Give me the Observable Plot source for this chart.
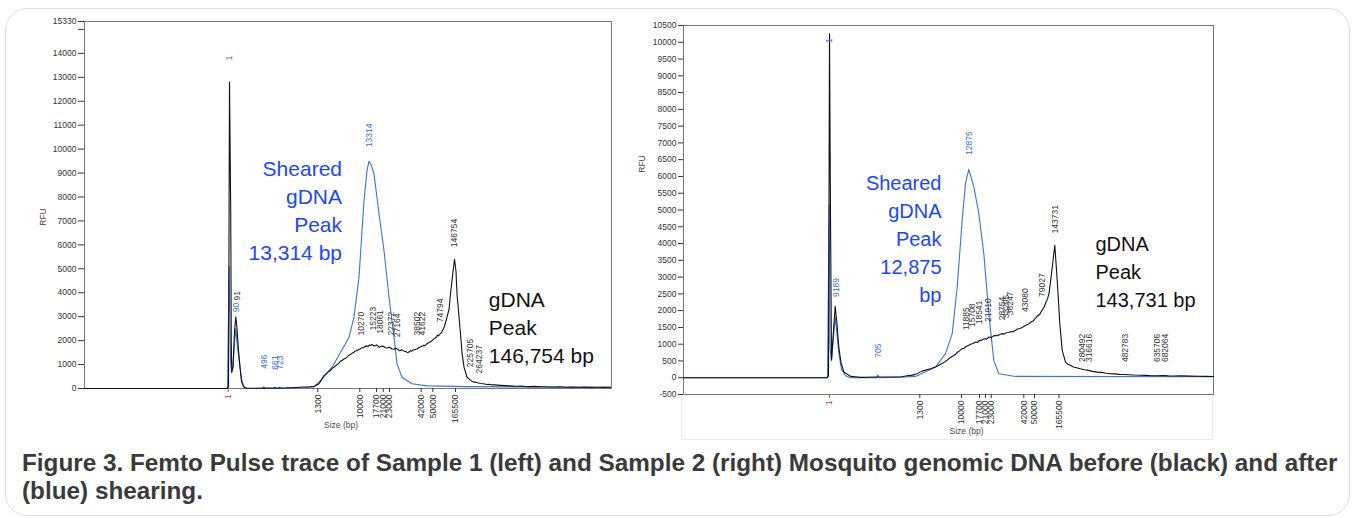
<!DOCTYPE html>
<html>
<head>
<meta charset="utf-8">
<script src="https://cdn.jsdelivr.net/npm/d3@7"></script>
<script src="https://cdn.jsdelivr.net/npm/@observablehq/plot@0.6"></script>
<style>
  html, body { margin: 0; padding: 0; background: #fff; width: 1357px; height: 518px; overflow: hidden;
    font-family: "Liberation Sans", Arial, sans-serif; }
  #box { position: absolute; left: 5px; top: 8px; width: 1345px; height: 508px; box-sizing: border-box;
    border: 1.5px solid #dedede; border-radius: 22px; }
  #left { position: absolute; left: 0; top: 10px; }
  #right { position: absolute; left: 620px; top: 10px; }
  #rframe { position: absolute; left: 681px; top: 394px; width: 532px; height: 46px; box-sizing: border-box;
    border: 1px solid #ececec; border-top: none; }
  #caption { position: absolute; left: 22px; top: 449px; font-weight: bold; font-size: 24.3px; line-height: 28px;
    color: #3a3a3a; white-space: nowrap; }
</style>
</head>
<body>
<div id="box"></div>
<div id="rframe"></div>
<div id="left"></div>
<div id="right"></div>
<div id="caption">Figure 3. Femto Pulse trace of Sample 1 (left) and Sample 2 (right) Mosquito genomic DNA before (black) and after<br>(blue) shearing.</div>
<script>
// ---------- DATA ----------
// Ladder (size standard) positions along migration time (arbitrary run-time units)
const ladderSizes = [1, 1300, 10000, 17700, 21000, 23000, 42000, 50000, 165500];
const leftLadderTime = [28.74, 46.66, 55.06, 58.4, 59.74, 61.0, 67.34, 69.66, 74.2];
const rightLadderTime = [29.2, 47.26, 55.6, 59.2, 60.4, 61.54, 68.06, 70.2, 75.1];

const leftYTicks = [0,1000,2000,3000,4000,5000,6000,7000,8000,9000,10000,11000,12000,13000,14000,15000,15330];
const rightYTicks = [-500,0,500,1000,1500,2000,2500,3000,3500,4000,4500,5000,5500,6000,6500,7000,7500,8000,8500,9000,9500,10000,10500];

// Sample 1 (left): [time, RFU]
const leftBlack = [[0,0],[28.4,0],[28.8,60],[29.0,12800],[29.25,7200],[29.35,2000],[29.45,700],[29.7,900],[30.0,2400],[30.26,3000],[30.5,2500],[30.8,1600],[31.1,900],[31.4,300],[31.8,80],[32.4,10],[36,15],[40,20],[42,40],[44,60],[45.2,70],[45.9,80],
  [46.9,200],[47.3,330],[47.9,540],[48.3,610],[48.8,700],[49.2,760],[49.6,850],[49.9,890],[50.3,960],[50.6,1010],[50.9,1060],[51.2,1150],[51.5,1170],[51.9,1230],[52.2,1260],[52.5,1310],[52.9,1390],[53.2,1420],[53.5,1470],[53.8,1500],[54.1,1560],[54.5,1590],[54.8,1620],[55.2,1660],[55.5,1700],[55.8,1700],[56.1,1760],[56.4,1780],[56.7,1750],[57.0,1820],[57.3,1800],[57.5,1840],[57.8,1790],[58.1,1780],[58.4,1820],[58.6,1790],[58.9,1730],[59.2,1740],[59.5,1770],[59.9,1750],[60.2,1700],[60.6,1690],[60.9,1720],[61.2,1700],[61.5,1650],[61.9,1640],[62.2,1680],[62.5,1660],[62.8,1600],[63.1,1580],[63.4,1620],[63.6,1600],[64.0,1560],[64.3,1540],[64.6,1500],[64.9,1520],[65.2,1580],[65.4,1560],[65.7,1600],[66.0,1620],[66.3,1640],[66.6,1660],[66.9,1720],[67.2,1730],[67.5,1760],[67.8,1800],[68.1,1790],[68.4,1850],[68.7,1900],[69.0,1930],[69.3,1960],[69.5,2000],[69.8,2060],[70.0,2080],[70.2,2120],[70.4,2150],[70.6,2230],[70.8,2200],[71.0,2260],[71.2,2290],[71.4,2330],[71.6,2420],[71.8,2500],[72.0,2600],
  [72.5,2980],[72.9,3300],[73.2,3950],[73.6,4700],[74.0,5400],[74.3,4900],[74.5,3950],[74.9,3000],[75.2,2290],[75.5,1500],[75.9,890],
  [76.5,470],[76.9,400],[77.2,340],[77.5,300],[77.9,260],[78.2,270],[78.5,240],[78.9,230],[79.2,210],[79.8,200],[80.5,170],[81,180],[81.5,150],[82,150],[82.6,140],[83.2,130],[84,120],[85,110],[85.8,100],[86.5,95],[87.5,100],[88,85],[89,80],[90,90],[91.2,70],[92,75],[93,65],[94,60],[95,70],[96.5,55],[97.5,60],[99,50],[100,60],[101.2,45],[102,55],[103,50],[104,45],[105.2,50]];
const leftBlue = [[0,0],[28.6,0],[28.94,5100],[29.2,1200],[29.4,650],[29.7,900],[30.0,1900],[30.26,2500],[30.5,1900],[30.8,1400],[31.1,900],[31.4,400],[31.9,60],[32.4,0],[35.6,0],[35.86,70],[36.1,0],[37.9,0],[38.06,60],[38.3,0],[38.9,0],[39.06,60],[39.3,0],[44,30],[45.9,80],[47.2,330],[49.5,890],[51.2,1500],[52.9,2140],[53.9,2980],[54.9,4650],[55.9,7850],[56.5,9100],[56.9,9500],[57.3,9350],[57.9,8970],[58.9,7300],[59.9,5760],[60.9,3810],[61.9,2140],[62.5,1030],[63.5,470],[65.5,200],[68.5,110],[76.5,80],[96.5,55],[105.2,50]];

// Sample 2 (right): [time, RFU]
const rightBlack = [[0,0],[28.6,0],[29.0,50],[29.2,10250],[29.4,4800],[29.6,540],[30.0,1400],[30.34,2130],[30.7,1600],[31.06,910],[31.5,450],[32.06,170],[33.4,40],[35.4,10],[39.4,20],[43.4,20],[44.7,60],[45.5,70],[46.4,100],[47.7,197],[49.4,269],
  [50.4,317],[50.9,360],[51.4,400],[51.8,430],[52.3,480],[52.7,520],[53.1,568],[53.5,610],[53.9,650],[54.4,700],[54.8,760],[55.2,800],[55.7,866],[56.1,880],[56.5,930],[57.0,960],[57.4,1000],[57.9,1020],[58.4,1063],[58.8,1050],[59.2,1110],[59.7,1120],[60.1,1160],[60.6,1150],[61.1,1213],[61.5,1200],[61.9,1240],[62.4,1260],[62.8,1250],[63.2,1290],[63.7,1314],[64.1,1300],[64.6,1340],[65.0,1350],[65.5,1380],[65.9,1370],[66.4,1413],[66.8,1450],[67.3,1470],[67.7,1500],[68.2,1540],[68.6,1570],[69.1,1612],[69.5,1660],[70.0,1700],[70.4,1780],[70.8,1840],[71.3,1900],[71.7,2010],[72.1,2100],[72.5,2250],[72.8,2350],[73.1,2508],
  [73.6,3100],[74.26,3950],[74.74,2906],[75.26,1612],[75.74,815],
  [76.4,466],[76.9,400],[77.4,366],[78,320],[78.6,300],[79.4,267],[80.2,240],[81,220],[81.8,190],[82.74,167],[83.6,160],[84.5,135],[85.4,120],[86.3,115],[87.2,100],[88.06,97],[89,90],[90,80],[91.4,75],[92.5,70],[93.6,60],[94.74,58],[96,65],[97,55],[98,52],[99.5,55],[101.4,48],[103,45],[104.5,40],[106,38]];
const rightBlue = [[0,0],[28.8,0],[29.14,5150],[29.3,900],[29.6,500],[30.0,1200],[30.34,1810],[30.7,1300],[31.1,700],[31.6,250],[32.4,60],[33.4,0],[38.6,0],[38.86,80],[39.1,0],[44,20],[46.4,39],[50.4,317],[52.4,717],[53.74,1314],[54.74,2706],[55.74,4698],[56.4,5794],[57.06,6213],[58.06,5693],[59.06,4897],[60.06,3703],[61.06,1912],[62.06,516],[63.06,119],[66.4,39],[106,30]];

// Peak size tags
const leftBlueTags = ["1", "90", "496", "661", "723", "13314"];
const leftBlueTagT = [29.0, 30.26, 35.86, 38.06, 39.06, 56.86];
const leftBlueTagRfu = [13700, 3187, 823, 781, 781, 10079];
const leftBlackTags = ["91", "10270", "15223", "18061", "22372", "27164", "38502", "41622", "74794", "146754", "225705", "264237"];
const leftBlackTagT = [30.56, 55.34, 57.74, 59.06, 61.34, 62.54, 66.54, 67.54, 71.2, 74.0, 77.2, 79.0];
const leftBlackTagRfu = [3676, 2214, 2423, 2285, 2214, 2143, 2214, 2214, 2769, 5902, 890, 627];

const rightBlueTags = ["1", "9189", "705", "12875"];
const rightBlueTagT = [29.2, 30.54, 38.86, 57.06];
const rightBlueTagRfu = [9971, 2407, 597, 6640];
const rightBlackTags = ["11885", "15708", "18541", "21910", "28754", "33295", "36247", "43080", "79027", "143731", "280492", "316616", "482783", "635706", "682064"];
const rightBlackTagT = [56.6, 57.8, 59.14, 60.86, 63.74, 64.6, 65.4, 68.4, 71.74, 74.26, 79.74, 81.06, 88.4, 94.74, 96.4];
const rightBlackTagRfu = [1413, 1511, 1592, 1661, 1711, 1771, 1861, 1960, 2408, 4301, 466, 466, 466, 466, 466];

// Peak call-outs
const leftNotes = ["Sheared\ngDNA\nPeak\n13,314 bp", "gDNA\nPeak\n146,754 bp"];
const leftNoteT = [51.5, 80.86];
const leftNoteRfu = [7494, 2590];
const rightNotes = ["Sheared\ngDNA\nPeak\n12,875\nbp", "gDNA\nPeak\n143,731 bp"];
const rightNoteT = [51.6, 82.4];
const rightNoteRfu = [4194, 3196];

// ---------- DRAWING ----------
const BLACK = "#111";
const BLUE = "#3f71dd";
const TAGBLUE = "#3a6ee0";
const NOTEBLUE = "#1e46fa";
const FONT = "'Liberation Sans', Arial, sans-serif";

const toRows = pairs => pairs.map(([t, rfu]) => ({t, rfu}));

function makeChart(o) {
  const sizeByTime = new Map(o.ladderTime.map((t, i) => [t, String(ladderSizes[i])]));
  const tagMark = (tags, ts, rfus, fill) => Plot.text(tags, {
    x: (d, i) => ts[i], y: (d, i) => rfus[i], text: d => d,
    rotate: -90, textAnchor: "start", lineAnchor: "middle", fill, fontSize: 8.5
  });
  return Plot.plot({
    width: o.width, height: o.height,
    marginLeft: o.ml, marginTop: o.mt, marginRight: o.mr, marginBottom: o.mb,
    x: {type: "linear", domain: o.xDomain, label: null},
    y: {type: "linear", domain: o.yDomain, label: null},
    style: {fontFamily: FONT, fontSize: "8.5px", color: "#333", background: "transparent", overflow: "visible"},
    marks: [
      Plot.frame({stroke: "#777"}),
      Plot.axisY(o.yTicks, {tickSize: o.yTickSize, tickPadding: 2, tickFormat: d => d === 15000 ? "" : String(d), color: "#333", label: null}),
      Plot.axisX(o.ladderTime.slice(1), {tickSize: 4, tickPadding: 2, tickRotate: -90, tickFormat: d => sizeByTime.get(d), color: "#333", label: null}),
      Plot.axisX(o.ladderTime.slice(0, 1), {tickSize: 4, tickPadding: 2, tickRotate: -90, tickFormat: d => sizeByTime.get(d), color: "#b2453c", label: null}),
      Plot.text(["RFU"], {frameAnchor: "left", dx: -41, dy: o.rfuDy, rotate: -90, textAnchor: "middle", lineAnchor: "middle", fontSize: 8.5, fill: "#5a4040"}),
      Plot.text(["Size (bp)"], {frameAnchor: "bottom", dx: o.sizeDx, dy: 37, textAnchor: "middle", lineAnchor: "middle", fontSize: 8.5, fill: "#4a4a55"}),
      Plot.line(toRows(o.blue), {x: "t", y: "rfu", stroke: BLUE, strokeWidth: 1.1}),
      Plot.line(toRows(o.black), {x: "t", y: "rfu", stroke: BLACK, strokeWidth: 1.1}),
      tagMark(o.blueTags, o.blueTagT, o.blueTagRfu, TAGBLUE),
      tagMark(o.blackTags, o.blackTagT, o.blackTagRfu, "#333"),
      Plot.text([o.notes[0]], {x: o.noteT[0], y: o.noteRfu[0], text: d => d, textAnchor: "end", lineAnchor: "middle",
        fontSize: o.noteSize, lineHeight: 28 / o.noteSize, fill: NOTEBLUE, fontFamily: FONT}),
      Plot.text([o.notes[1]], {x: o.noteT[1], y: o.noteRfu[1], text: d => d, textAnchor: "start", lineAnchor: "middle",
        fontSize: o.noteSize, lineHeight: 28 / o.noteSize, fill: "#111", fontFamily: FONT})
    ]
  });
}

document.getElementById("left").append(makeChart({
  width: 620, height: 425, ml: 84, mt: 11, mr: 9, mb: 47,
  xDomain: [0, 105.4], yDomain: [0, 15330], yTicks: leftYTicks, yTickSize: 6,
  ladderTime: leftLadderTime, blue: leftBlue, black: leftBlack,
  blueTags: leftBlueTags, blueTagT: leftBlueTagT, blueTagRfu: leftBlueTagRfu,
  blackTags: leftBlackTags, blackTagT: leftBlackTagT, blackTagRfu: leftBlackTagRfu,
  notes: leftNotes, noteT: leftNoteT, noteRfu: leftNoteRfu, noteSize: 21,
  rfuDy: 12, sizeDx: -7
}));

document.getElementById("right").append(makeChart({
  width: 603, height: 432, ml: 63, mt: 15, mr: 10, mb: 48,
  xDomain: [0, 106], yDomain: [-500, 10500], yTicks: rightYTicks, yTickSize: 5,
  ladderTime: rightLadderTime, blue: rightBlue, black: rightBlack,
  blueTags: rightBlueTags, blueTagT: rightBlueTagT, blueTagRfu: rightBlueTagRfu,
  blackTags: rightBlackTags, blackTagT: rightBlackTagT, blackTagRfu: rightBlackTagRfu,
  notes: rightNotes, noteT: rightNoteT, noteRfu: rightNoteRfu, noteSize: 20,
  rfuDy: -46, sizeDx: 18
}));
</script>
</body>
</html>
